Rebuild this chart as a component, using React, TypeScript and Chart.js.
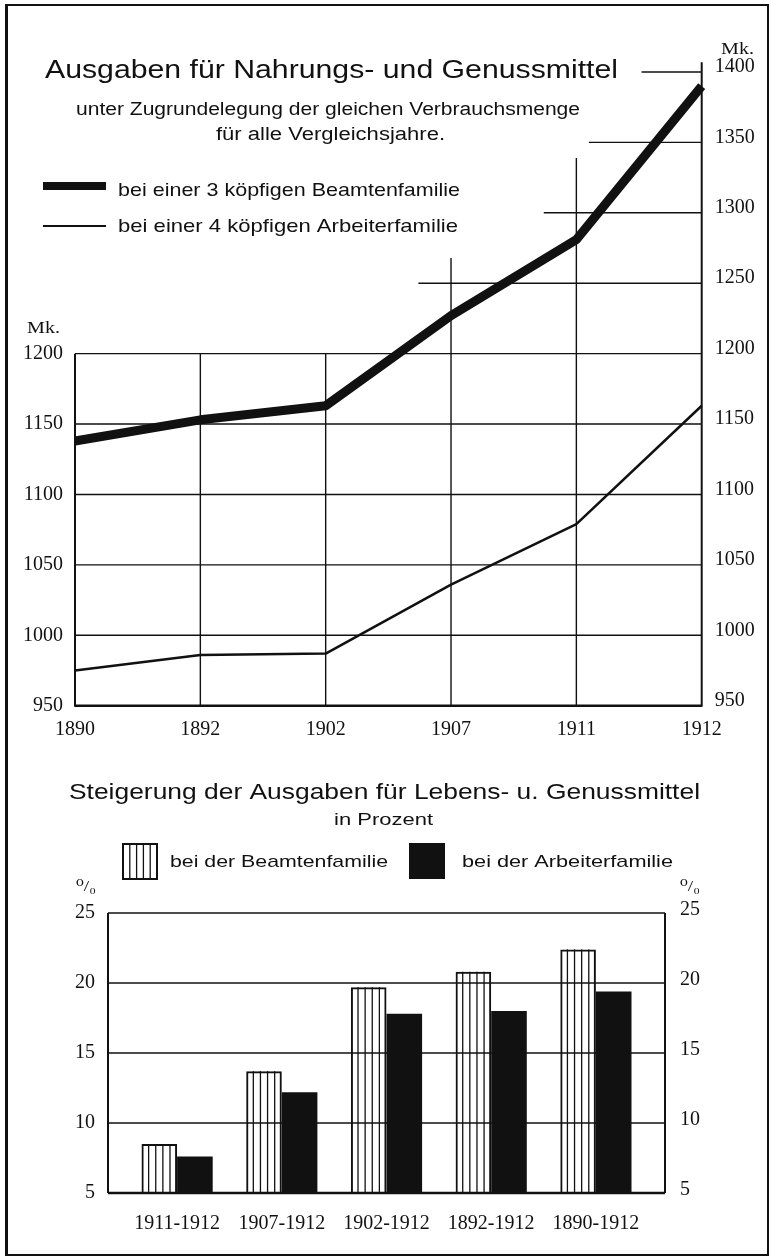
import React, { useEffect, useRef } from 'react';
import { Chart, registerables } from 'chart.js';

Chart.register(...registerables);

// ---------- data: upper line chart ----------
const years = ['1890', '1892', '1902', '1907', '1911', '1912'];
const beamtenMk = [1138, 1153, 1163, 1227, 1281, 1390];
const arbeiterMk = [975, 986, 987, 1036, 1079, 1163];
const mkMin = 950;
const mkMax = 1400;
const mkStep = 50;
const mkLeftMax = 1200;
// partial grid lines above 1200 (value, starting category index)
const upperGridValues = [1250, 1300, 1350, 1400];
const upperGridStartIdx = [2.74, 3.74, 4.1, 4.52];
// top value of each vertical grid line
const verticalGridTop = [1200, 1200, 1200, 1268, 1339, 1407];

// ---------- data: lower bar chart ----------
const periods = ['1911-1912', '1907-1912', '1902-1912', '1892-1912', '1890-1912'];
const beamtenPct = [8.5, 13.7, 19.7, 20.8, 22.4];
const arbeiterPct = [7.6, 12.2, 17.8, 18.0, 19.4];
const pctMin = 5;
const pctMax = 25;
const pctStep = 5;

const INK = '#111';
const SANS = "'Liberation Sans', 'DejaVu Sans', sans-serif";
const SERIF = "'Liberation Serif', 'DejaVu Serif', serif";

const W = 771;
const LINE_H = 760;
const BAR_H = 498;

function fitText(ctx: CanvasRenderingContext2D, text: string, left: number, baseline: number, width: number, size: number, family: string) {
  ctx.save();
  ctx.font = `${size}px ${family}`;
  ctx.fillStyle = INK;
  ctx.textBaseline = 'alphabetic';
  ctx.textAlign = 'left';
  const w = ctx.measureText(text).width;
  ctx.translate(left, baseline);
  ctx.scale(width / w, 1);
  ctx.fillText(text, 0, 0);
  ctx.restore();
}

function seg(ctx: CanvasRenderingContext2D, x1: number, y1: number, x2: number, y2: number, lw: number) {
  ctx.lineWidth = lw;
  ctx.beginPath();
  ctx.moveTo(x1, y1);
  ctx.lineTo(x2, y2);
  ctx.stroke();
}

const lineDecor = {
  id: 'lineDecor',
  beforeDatasetsDraw(chart: any) {
    const { ctx } = chart;
    const x = chart.scales.x;
    const y = chart.scales.y;
    ctx.save();
    ctx.strokeStyle = INK;
    ctx.lineCap = 'butt';
    const xL = x.getPixelForValue(0);
    const xR = x.getPixelForValue(years.length - 1);
    y.ticks.forEach((t: any) => {
      if (t.value <= mkLeftMax) {
        const py = y.getPixelForValue(t.value);
        seg(ctx, xL, py, xR, py, t.value === mkMin ? 2.6 : 1.4);
      }
    });
    upperGridValues.forEach((v, i) => {
      const py = y.getPixelForValue(v);
      seg(ctx, x.getPixelForValue(upperGridStartIdx[i]), py, xR, py, 1.4);
    });
    years.forEach((_, i) => {
      const px = x.getPixelForValue(i);
      const lw = i === 0 || i === years.length - 1 ? 2 : 1.4;
      seg(ctx, px, y.getPixelForValue(mkMin) + 1, px, y.getPixelForValue(verticalGridTop[i]), lw);
    });
    ctx.restore();
  },
  afterDraw(chart: any) {
    const { ctx } = chart;
    fitText(ctx, 'Ausgaben für Nahrungs- und Genussmittel', 45, 78, 573, 26, SANS);
    fitText(ctx, 'unter Zugrundelegung der gleichen Verbrauchsmenge', 76, 115, 504, 18, SANS);
    fitText(ctx, 'für alle Vergleichsjahre.', 216, 140, 229, 18, SANS);
    ctx.save();
    ctx.strokeStyle = INK;
    ctx.lineCap = 'butt';
    seg(ctx, 43, 186, 106, 186, 8);
    seg(ctx, 43, 226, 106, 226, 2.2);
    ctx.restore();
    fitText(ctx, chart.data.datasets[0].label, 118, 196, 342, 19, SANS);
    fitText(ctx, chart.data.datasets[1].label, 118, 232, 340, 19, SANS);
    fitText(ctx, 'Mk.', 721, 54, 33, 17, SERIF);
    fitText(ctx, 'Mk.', 27, 333, 33, 17, SERIF);
  },
};

const barDecor = {
  id: 'barDecor',
  beforeDatasetsDraw(chart: any) {
    const { ctx, chartArea } = chart;
    const y = chart.scales.y;
    ctx.save();
    ctx.strokeStyle = INK;
    y.ticks.forEach((t: any) => {
      const py = y.getPixelForValue(t.value);
      seg(ctx, chartArea.left, py, chartArea.right, py, t.value === pctMin ? 2.6 : 1.5);
    });
    const top = y.getPixelForValue(pctMax);
    const bot = y.getPixelForValue(pctMin);
    seg(ctx, chartArea.left, top, chartArea.left, bot, 2);
    seg(ctx, chartArea.right, top, chartArea.right, bot, 2);
    ctx.restore();
  },
  afterDatasetsDraw(chart: any) {
    const { ctx } = chart;
    const meta = chart.getDatasetMeta(0);
    ctx.save();
    ctx.strokeStyle = INK;
    meta.data.forEach((el: any) => {
      const p = el.getProps(['x', 'y', 'base', 'width'], true);
      const left = p.x - p.width / 2;
      for (let k = 1; k < 5; k++) {
        const lx = left + (k * p.width) / 5;
        seg(ctx, lx, p.y, lx, p.base, 1.3);
      }
    });
    ctx.restore();
  },
  afterDraw(chart: any) {
    const { ctx } = chart;
    fitText(ctx, 'Steigerung der Ausgaben für Lebens- u. Genussmittel', 69, 39, 631, 22, SANS);
    fitText(ctx, 'in Prozent', 334, 65, 99, 16, SANS);
    ctx.save();
    ctx.strokeStyle = INK;
    ctx.lineWidth = 2;
    ctx.strokeRect(123, 84, 34, 35);
    for (let k = 1; k < 5; k++) {
      const lx = 123 + (k * 34) / 5;
      seg(ctx, lx, 84, lx, 119, 1.3);
    }
    ctx.fillStyle = INK;
    ctx.fillRect(409, 83, 36, 36);
    ctx.restore();
    fitText(ctx, chart.data.datasets[0].label, 170, 107, 218, 17, SANS);
    fitText(ctx, chart.data.datasets[1].label, 462, 107, 211, 17, SANS);
    fitText(ctx, '⁰/₀', 76, 131, 20, 15, SERIF);
    fitText(ctx, '⁰/₀', 680, 131, 20, 15, SERIF);
  },
};

export default function App() {
  const lineRef = useRef<HTMLCanvasElement | null>(null);
  const barRef = useRef<HTMLCanvasElement | null>(null);

  useEffect(() => {
    const tickFont = { family: SERIF, size: 20 };
    const noGrid = { display: false, drawTicks: false, tickLength: 0 };

    const lineChart = new Chart(lineRef.current as HTMLCanvasElement, {
      type: 'line',
      data: {
        labels: years,
        datasets: [
          {
            label: 'bei einer 3 köpfigen Beamtenfamilie',
            data: beamtenMk,
            borderColor: INK,
            borderWidth: 9,
            pointRadius: 0,
            tension: 0,
            borderJoinStyle: 'round',
            borderCapStyle: 'butt',
            yAxisID: 'y',
          },
          {
            label: 'bei einer 4 köpfigen Arbeiterfamilie',
            data: arbeiterMk,
            borderColor: INK,
            borderWidth: 2.5,
            pointRadius: 0,
            tension: 0,
            borderJoinStyle: 'round',
            yAxisID: 'y',
          },
        ],
      },
      options: {
        responsive: false,
        maintainAspectRatio: false,
        animation: false,
        devicePixelRatio: 1,
        layout: { padding: { top: 72, left: 0, right: 0, bottom: 0 } },
        plugins: { legend: { display: false }, tooltip: { enabled: false }, title: { display: false } },
        scales: {
          x: {
            type: 'category',
            offset: false,
            grid: noGrid,
            border: { display: false },
            ticks: { color: INK, font: tickFont, padding: 12, autoSkip: false, maxRotation: 0 },
            afterFit: (s: any) => { s.height = LINE_H - 705.7; },
          },
          y: {
            position: 'left',
            min: mkMin,
            max: mkMax,
            grid: noGrid,
            border: { display: false },
            ticks: {
              stepSize: mkStep,
              color: INK,
              font: tickFont,
              padding: 12,
              callback: (v: any) => (v <= mkLeftMax ? String(v) : ''),
            },
            afterFit: (s: any) => { s.width = 75; },
          },
          y2: {
            position: 'right',
            min: mkMin,
            max: mkMax,
            grid: noGrid,
            border: { display: false },
            ticks: {
              stepSize: mkStep,
              color: INK,
              font: tickFont,
              padding: 13,
              labelOffset: -5,
              callback: (v: any) => String(v),
            },
            afterFit: (s: any) => { s.width = W - 701.7; },
          },
        },
      } as any,
      plugins: [lineDecor],
    });

    const barChart = new Chart(barRef.current as HTMLCanvasElement, {
      type: 'bar',
      data: {
        datasets: [
          {
            label: 'bei der Beamtenfamilie',
            data: periods.map((_, i) => ({ x: i, y: beamtenPct[i] })),
            backgroundColor: 'rgba(0,0,0,0)',
            borderColor: INK,
            borderWidth: 2,
            borderSkipped: 'bottom',
          },
          {
            label: 'bei der Arbeiterfamilie',
            data: periods.map((_, i) => ({ x: i, y: arbeiterPct[i] })),
            backgroundColor: INK,
            borderWidth: 0,
          },
        ],
      } as any,
      options: {
        responsive: false,
        maintainAspectRatio: false,
        animation: false,
        devicePixelRatio: 1,
        layout: { padding: { top: 153, left: 0, right: 0, bottom: 0 } },
        datasets: { bar: { barPercentage: 1, categoryPercentage: 0.68, base: pctMin } },
        plugins: { legend: { display: false }, tooltip: { enabled: false } },
        scales: {
          x: {
            type: 'linear',
            min: -0.66,
            max: 4.66,
            offset: false,
            grid: { ...noGrid, offset: false },
            border: { display: false },
            afterBuildTicks: (s: any) => { s.ticks = periods.map((_, i) => ({ value: i })); },
            ticks: {
              color: INK,
              font: tickFont,
              padding: 19,
              autoSkip: false,
              maxRotation: 0,
              callback: (v: any) => periods[v] ?? '',
            },
            afterFit: (s: any) => { s.height = BAR_H - 433; },
          },
          y: {
            position: 'left',
            min: pctMin,
            max: pctMax,
            grid: noGrid,
            border: { display: false },
            ticks: { stepSize: pctStep, color: INK, font: tickFont, padding: 13 },
            afterFit: (s: any) => { s.width = 108; },
          },
          y2: {
            position: 'right',
            min: pctMin,
            max: pctMax,
            grid: noGrid,
            border: { display: false },
            ticks: { stepSize: pctStep, color: INK, font: tickFont, padding: 15, labelOffset: -3 },
            afterFit: (s: any) => { s.width = W - 665; },
          },
        },
      } as any,
      plugins: [barDecor],
    });

    return () => {
      lineChart.destroy();
      barChart.destroy();
    };
  }, []);

  return (
    <div style={{ position: 'absolute', left: 0, top: 0, width: W, height: 1258, overflow: 'hidden', background: '#fff' }}>
      <canvas ref={lineRef} width={W} height={LINE_H} style={{ position: 'absolute', left: 0, top: 0, display: 'block' }} />
      <canvas ref={barRef} width={W} height={BAR_H} style={{ position: 'absolute', left: 0, top: LINE_H, display: 'block' }} />
      <div
        style={{
          position: 'absolute',
          left: 5,
          top: 4,
          width: 764,
          height: 1252,
          boxSizing: 'border-box',
          borderTop: '2px solid #111',
          borderRight: '2px solid #111',
          borderBottom: '2px solid #111',
          borderLeft: '3px solid #111',
          pointerEvents: 'none',
        }}
      />
    </div>
  );
}
